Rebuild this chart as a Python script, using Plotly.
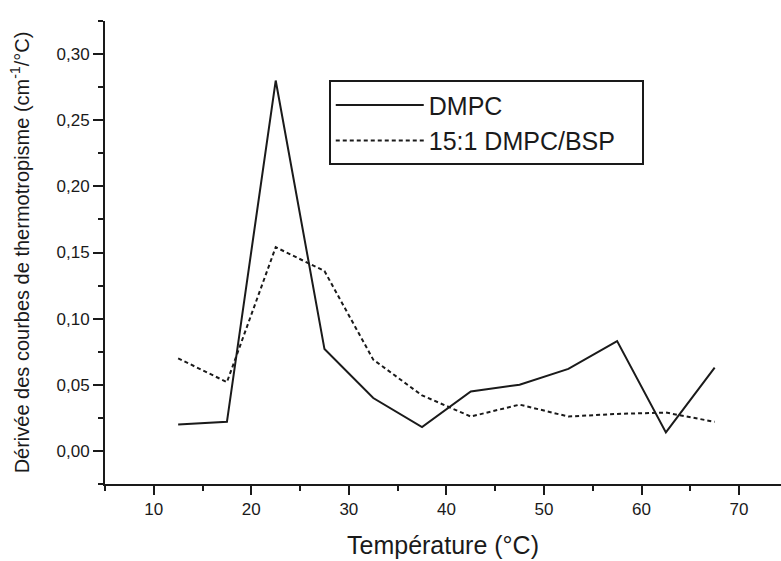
import plotly.graph_objects as go

temperature = [12.5, 17.5, 22.5, 27.5, 32.5, 37.5, 42.5, 47.5, 52.5, 57.5, 62.5, 67.5]
dmpc = [0.020, 0.022, 0.280, 0.077, 0.040, 0.018, 0.045, 0.050, 0.062, 0.083, 0.014, 0.063]
dmpc_bsp = [0.070, 0.052, 0.154, 0.136, 0.069, 0.042, 0.026, 0.035, 0.026, 0.028, 0.029, 0.022]
series_names = ["DMPC", "15:1 DMPC/BSP"]

FONT = "Liberation Sans, Arial, Helvetica, sans-serif"
INK = "#1a1a1a"
PAD = "\u00a0\u00a0\u00a0"

fig = go.Figure()
fig.add_trace(go.Scatter(x=temperature, y=dmpc, mode="lines", name=series_names[0] + PAD,
                         line=dict(color=INK, width=2)))
fig.add_trace(go.Scatter(x=temperature, y=dmpc_bsp, mode="lines", name=series_names[1] + PAD,
                         line=dict(color=INK, width=2, dash="4px,3px")))

axis_common = dict(showline=True, linecolor=INK, linewidth=2, ticks="outside",
                   tickcolor=INK, tickwidth=2, showgrid=False, zeroline=False,
                   tickfont=dict(family=FONT, size=17, color=INK))

fig.update_xaxes(range=[5, 74.3], tick0=0, dtick=10, ticklen=9,
                 minor=dict(ticks="outside", dtick=5, ticklen=5, tickcolor=INK, tickwidth=2),
                 title=dict(text="Température (°C)", font=dict(family=FONT, size=25, color=INK), standoff=18),
                 **axis_common)
fig.update_yaxes(range=[-0.025, 0.325], tick0=0, dtick=0.05, tickformat=".2f", ticklen=10,
                 minor=dict(ticks="outside", dtick=0.025, ticklen=5, tickcolor=INK, tickwidth=2),
                 title=dict(text="Dérivée des courbes de thermotropisme (cm<sup>-1</sup>/°C)",
                            font=dict(family=FONT, size=20, color=INK), standoff=22),
                 **axis_common)

fig.update_layout(
    width=781, height=561,
    margin=dict(l=105, r=0, t=21, b=77),
    paper_bgcolor="white", plot_bgcolor="white",
    separators=", ",
    showlegend=True,
    legend=dict(x=0.331, y=0.872, xanchor="left", yanchor="top",
                bordercolor=INK, borderwidth=2, bgcolor="white",
                font=dict(family=FONT, size=25, color=INK),
                itemwidth=88, tracegroupgap=0),
)

fig.write_html("out.html")
